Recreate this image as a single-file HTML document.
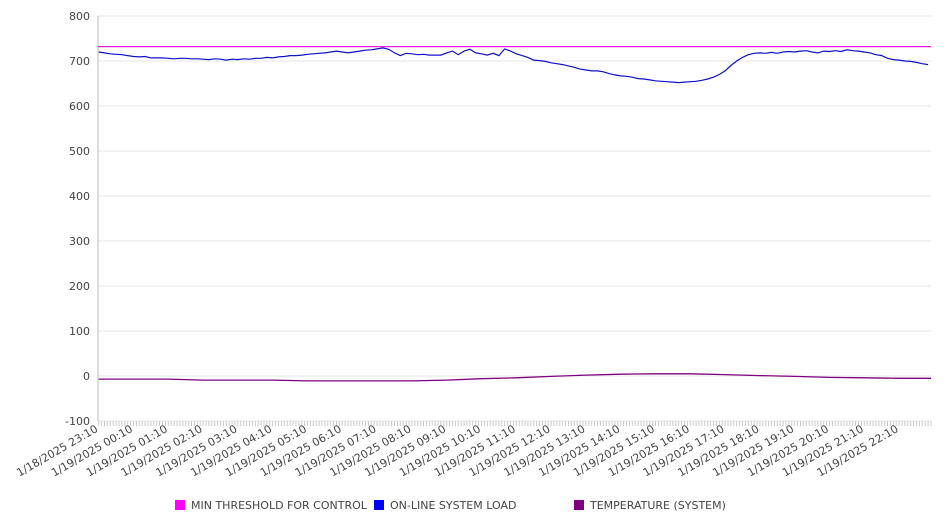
<!DOCTYPE html>
<html><head><meta charset="utf-8"><style>
body{margin:0;background:#fff;font-family:"Liberation Sans","DejaVu Sans",sans-serif}
svg text{font-family:"DejaVu Sans","Liberation Sans",sans-serif;font-size:11px;fill:#444}
</style></head><body>
<svg id="c" width="946" height="526" xmlns="http://www.w3.org/2000/svg"></svg>
<script>
const yTicks=[800,700,600,500,400,300,200,100,0,-100];
const xTickLabels=["1/18/2025 23:10","1/19/2025 00:10","1/19/2025 01:10","1/19/2025 02:10","1/19/2025 03:10","1/19/2025 04:10","1/19/2025 05:10","1/19/2025 06:10","1/19/2025 07:10","1/19/2025 08:10","1/19/2025 09:10","1/19/2025 10:10","1/19/2025 11:10","1/19/2025 12:10","1/19/2025 13:10","1/19/2025 14:10","1/19/2025 15:10","1/19/2025 16:10","1/19/2025 17:10","1/19/2025 18:10","1/19/2025 19:10","1/19/2025 20:10","1/19/2025 21:10","1/19/2025 22:10"];
const threshold=732;
// on-line system load, every 10 minutes from 23:10
const loadValues=[720,718,716,715,714,712,710,709,710,707,707,707,706,705,706,706,705,705,704,703,705,704,702,704,703,705,704,706,706,708,707,709,710,712,712,713,715,716,717,718,720,722,720,718,720,722,724,725,727,729,726,718,712,717,716,714,715,713,713,713,718,722,714,722,726,718,716,713,717,712,727,722,716,712,708,702,701,699,696,694,692,689,686,682,680,678,678,676,672,669,667,666,664,661,660,658,656,655,654,653,652,653,654,655,657,660,664,670,678,690,700,708,714,717,718,717,719,717,720,721,720,722,723,720,718,722,721,723,721,725,723,722,720,718,714,712,706,703,702,700,699,697,694,692];
// temperature, hourly from 23:10 plus end
const tempValues=[-7,-7,-7,-9,-9,-9,-11,-11,-11,-11,-9,-6,-4,-1,2,4,5,5,3,1,-1,-3,-4,-5,-5];
const ns="http://www.w3.org/2000/svg",svg=document.getElementById('c');
const X0=98.7,PX_H=34.8,XR=931,YT=16,YB=421,VMIN=-100,VMAX=800;
const xH=h=>X0+h*PX_H;
const y=v=>YB-(v-VMIN)/(VMAX-VMIN)*(YB-YT);
function mk(t,a,p){const e=document.createElementNS(ns,t);for(const k in a)e.setAttribute(k,a[k]);(p||svg).appendChild(e);return e;}
yTicks.forEach(v=>{
 const g=mk('line',{x1:98,x2:XR,y1:y(v),y2:y(v),stroke:'#e6e6e6','stroke-width':1});
 
 
 const t=mk('text',{x:90,y:y(v)+4,'text-anchor':'end'});t.textContent=v;
 
 
});
const ax=mk('line',{x1:98,x2:98,y1:YT,y2:YB,stroke:'#bbb'});


for(let i=0;i*PX_H/12+X0<=XR;i++){const xx=X0+i*PX_H/12;
 const tk=mk('line',{x1:xx,x2:xx,y1:YB,y2:YB+5,stroke:'#ccc'});
 
 }
xTickLabels.forEach((s,h)=>{const xx=xH(h);
 const t=mk('text',{x:xx,y:YB+10,'text-anchor':'end',transform:`rotate(-30 ${xx} ${YB+10})`});t.textContent=s;
 
 });
const th=mk('line',{x1:98,x2:XR,y1:y(threshold),y2:y(threshold),stroke:'#e020e0','stroke-width':1.2});


const lp=loadValues.map((v,i)=>`${xH(i/6).toFixed(1)},${y(v).toFixed(1)}`).join(' ');
const ll=mk('polyline',{points:lp,fill:'none',stroke:'#1010c8','stroke-width':1.2});


const tp=tempValues.map((v,i)=>`${Math.min(xH(i),XR).toFixed(1)},${y(v).toFixed(1)}`).join(' ');
const tl=mk('polyline',{points:tp,fill:'none',stroke:'#800080','stroke-width':1.3});


const legend=[["MIN THRESHOLD FOR CONTROL","#ff00ff",175],["ON-LINE SYSTEM LOAD","#0000ff",374],["TEMPERATURE (SYSTEM)","#800080",574]];
legend.forEach(([n,c,x])=>{
 const r=mk('rect',{x:x,y:500,width:10,height:10,fill:c});
 
 
 const t=mk('text',{x:x+16,y:509});t.textContent=n;
 
 
});
</script>
</body></html>
